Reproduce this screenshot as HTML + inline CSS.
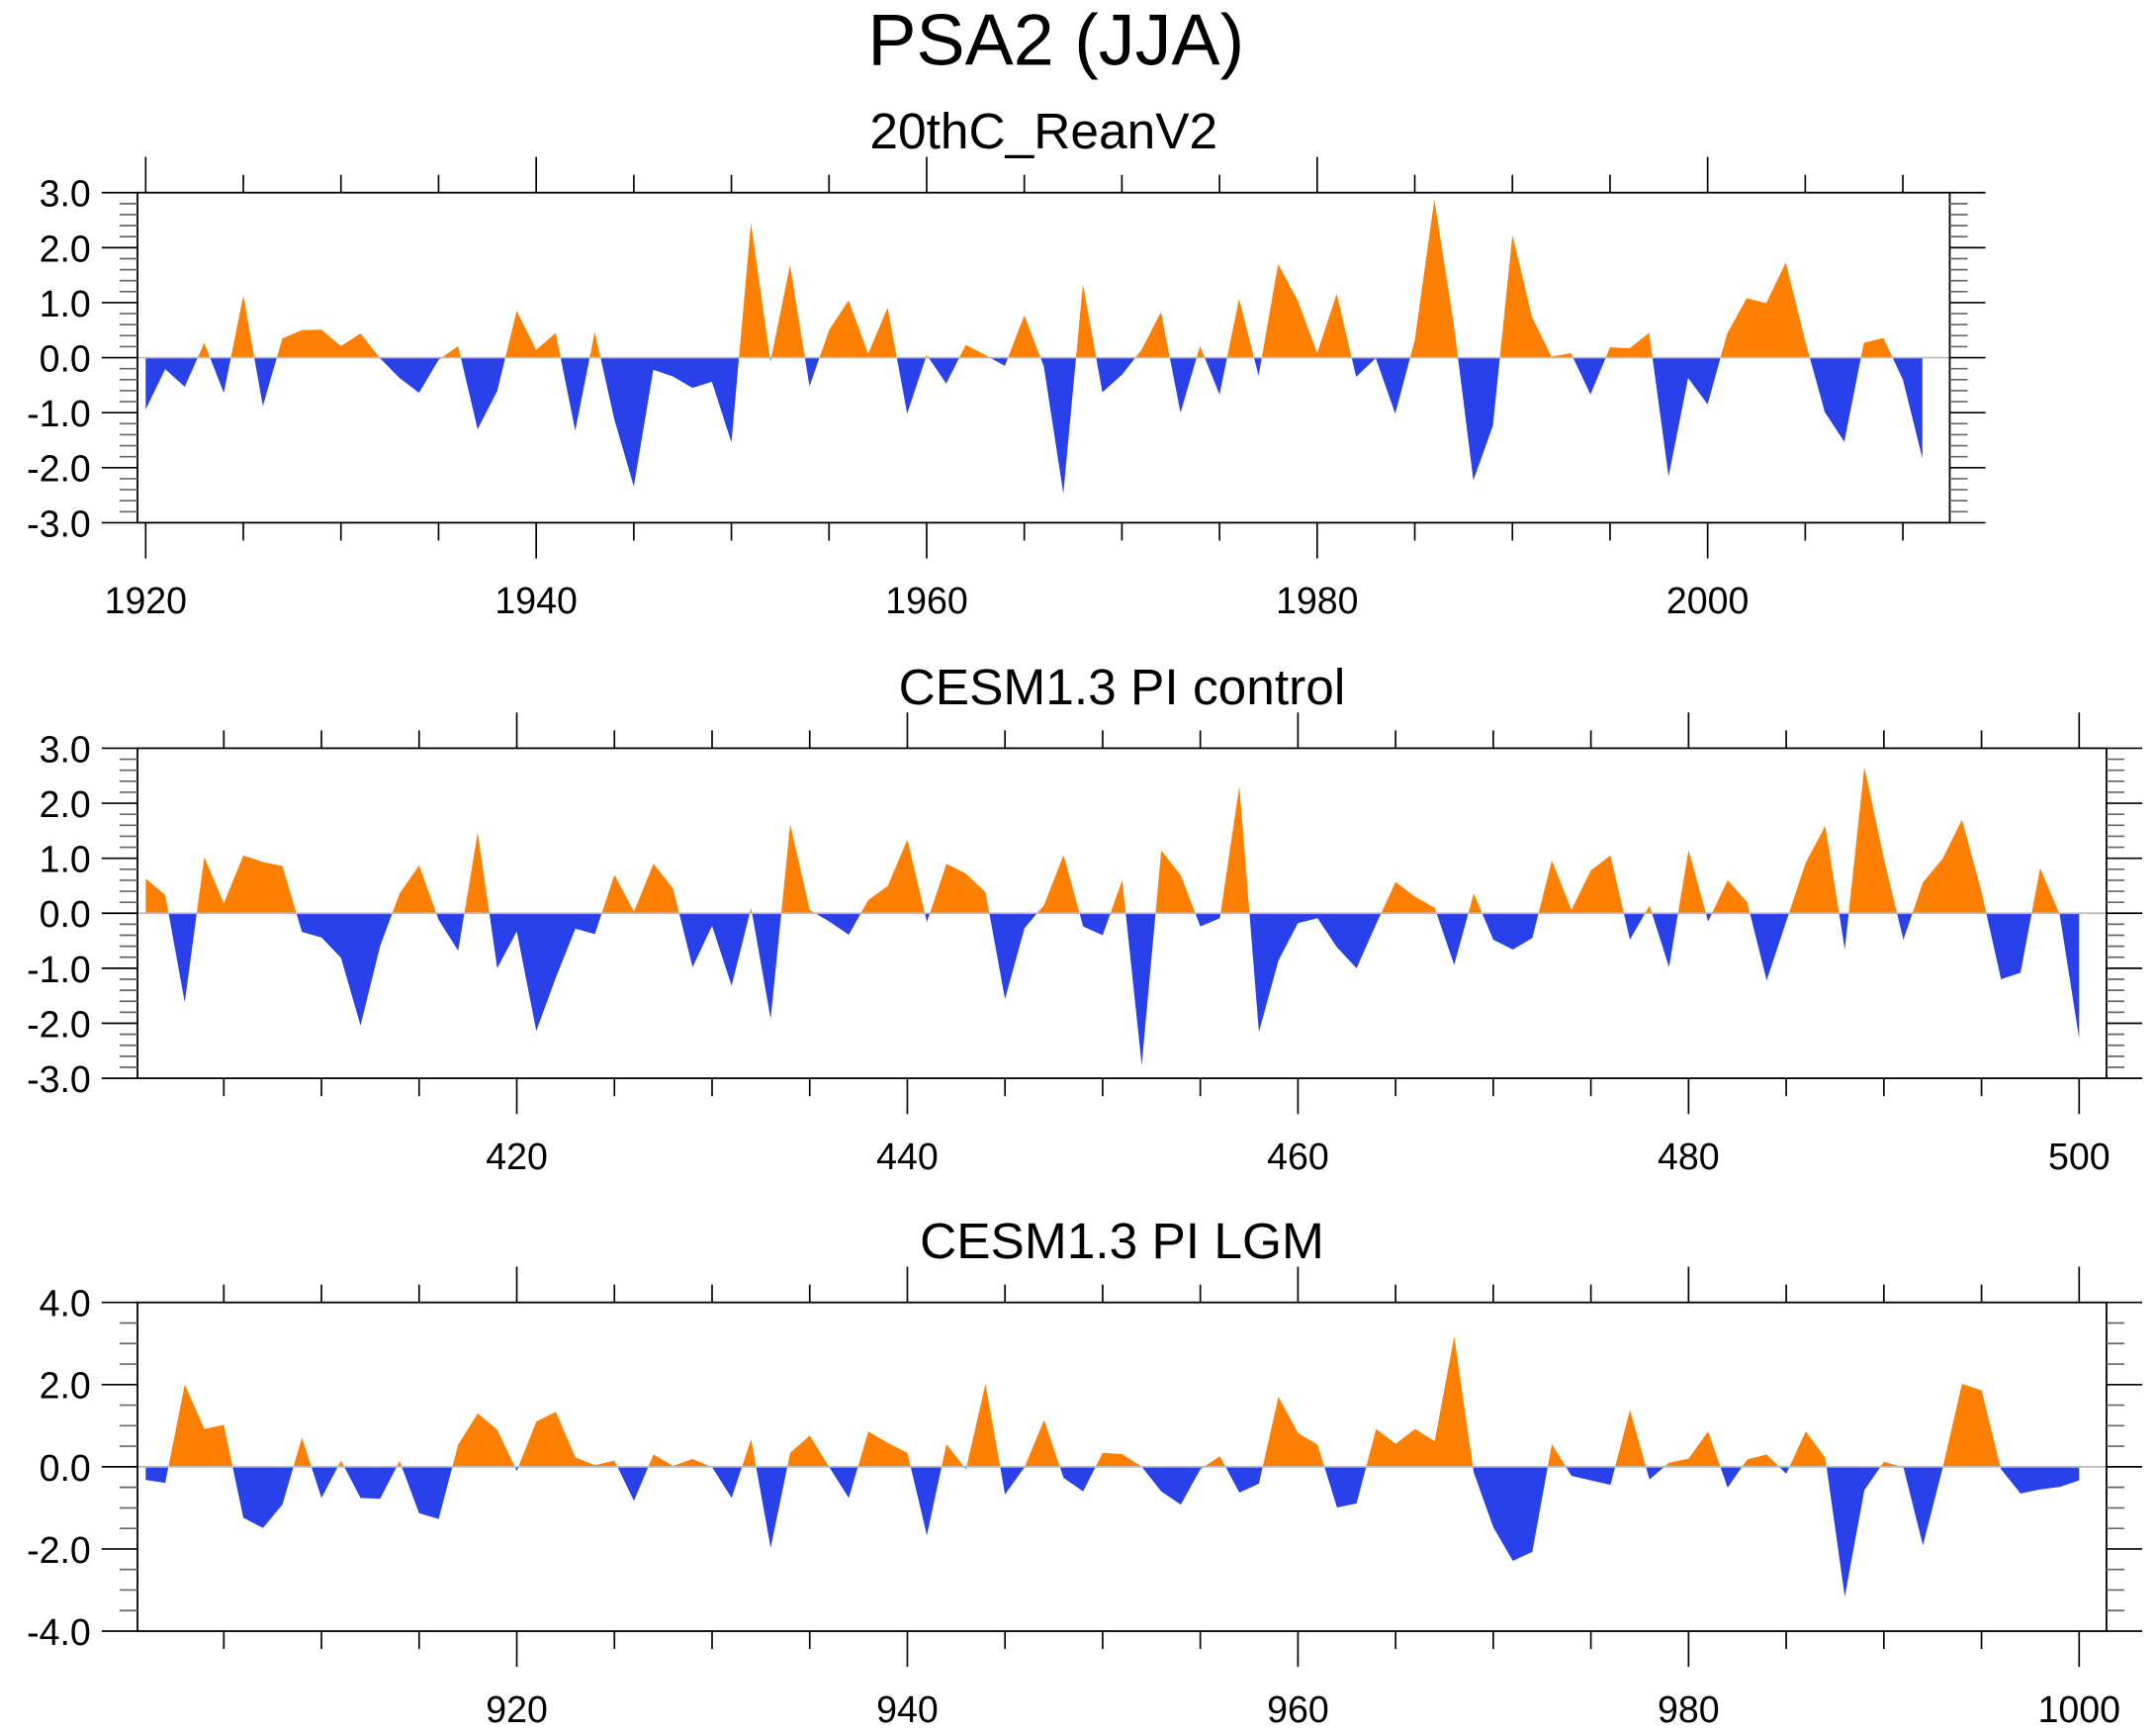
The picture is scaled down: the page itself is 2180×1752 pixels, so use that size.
<!DOCTYPE html>
<html><head><meta charset="utf-8"><style>
html,body{margin:0;padding:0;background:#fff;}
svg{display:block;font-family:"Liberation Sans",sans-serif;}
</style></head><body>
<svg id="fig" width="2180" height="1752" viewBox="0 0 1568 1260" xmlns="http://www.w3.org/2000/svg">
<text x="768" y="47" font-size="53" text-anchor="middle">PSA2 (JJA)</text>
</svg>
<script>
const years1 = [];
for (let y = 1920; y <= 2011; y++) years1.push(y);
const vals1 = [-0.94,-0.21,-0.53,0.27,-0.64,1.13,-0.88,0.35,0.5,0.51,0.21,0.44,-0.01,-0.37,-0.64,-0.04,0.21,-1.3,-0.61,0.85,0.14,0.45,-1.33,0.47,-1.12,-2.34,-0.22,-0.34,-0.55,-0.44,-1.54,2.45,-0.07,1.68,-0.52,0.5,1.04,0.07,0.91,-1.02,0.05,-0.47,0.23,0.05,-0.15,0.77,-0.16,-2.47,1.34,-0.63,-0.31,0.14,0.83,-1.0,0.21,-0.67,1.07,-0.33,1.7,1.04,0.08,1.16,-0.35,-0.01,-1.02,0.32,2.87,0.6,-2.23,-1.24,2.23,0.74,0.02,0.08,-0.67,0.19,0.17,0.45,-2.16,-0.37,-0.85,0.44,1.08,0.99,1.73,0.3,-0.99,-1.53,0.27,0.36,-0.4,-1.83];
const years2 = [];
for (let y = 401; y <= 500; y++) years2.push(y);
const vals2 = [0.63,0.33,-1.62,1.02,0.18,1.05,0.93,0.86,-0.34,-0.44,-0.81,-2.04,-0.6,0.36,0.87,-0.12,-0.68,1.47,-1.0,-0.33,-2.14,-1.17,-0.28,-0.38,0.7,0.03,0.9,0.45,-0.98,-0.23,-1.32,0.1,-1.92,1.62,0.06,-0.15,-0.39,0.24,0.5,1.34,-0.16,0.9,0.72,0.38,-1.56,-0.27,0.15,1.06,-0.24,-0.4,0.6,-2.76,1.14,0.69,-0.24,-0.09,2.31,-2.16,-0.86,-0.18,-0.09,-0.62,-1.0,-0.2,0.57,0.3,0.1,-0.94,0.36,-0.48,-0.66,-0.45,0.96,0.06,0.78,1.05,-0.48,0.14,-0.98,1.15,-0.15,0.6,0.2,-1.22,-0.15,0.92,1.59,-0.66,2.66,0.99,-0.48,0.56,0.99,1.7,0.39,-1.2,-1.08,0.82,-0.02,-2.28];
const years3 = [];
for (let y = 901; y <= 1000; y++) years3.push(y);
const vals3 = [-0.32,-0.39,2.0,0.92,1.02,-1.24,-1.49,-0.92,0.71,-0.76,0.15,-0.76,-0.78,0.14,-1.13,-1.27,0.54,1.3,0.9,-0.1,1.1,1.34,0.23,0.04,0.15,-0.83,0.3,0.02,0.19,-0.01,-0.76,0.67,-1.97,0.34,0.76,-0.01,-0.76,0.86,0.58,0.34,-1.67,0.55,-0.06,2.02,-0.67,-0.01,1.14,-0.27,-0.6,0.34,0.31,0.0,-0.6,-0.92,-0.06,0.26,-0.63,-0.41,1.7,0.82,0.54,-0.99,-0.89,0.92,0.56,0.92,0.62,3.17,-0.14,-1.47,-2.29,-2.07,0.55,-0.22,-0.33,-0.44,1.38,-0.31,0.1,0.2,0.86,-0.51,0.18,0.3,-0.17,0.86,0.22,-3.16,-0.57,0.12,-0.01,-1.91,-0.05,2.02,1.86,-0.06,-0.65,-0.55,-0.49,-0.33];
const xTicks1 = [1920,1940,1960,1980,2000];
const xTicks2 = [420,440,460,480,500];
const xTicks3 = [920,940,960,980,1000];
const yTicks12 = [-3,-2,-1,0,1,2,3];
const yTicks3 = [-4,-2,0,2,4];

const NS = "http://www.w3.org/2000/svg";
const svg = document.getElementById('fig');
function mk(tag, attrs, parent){
  const e = document.createElementNS(NS, tag);
  for (const k in attrs) e.setAttribute(k, attrs[k]);
  (parent||svg).appendChild(e);
  return e;
}

function panel(cfg){
  const g = mk('g', {});
  
  
  const L=cfg.left, R=cfg.right, T=cfg.top, B=cfg.bottom;
  const xs = v => L + (v - cfg.xmin) / (cfg.xmax - cfg.xmin) * (R - L);
  const ys = v => B - (v - cfg.ymin) / (cfg.ymax - cfg.ymin) * (B - T);
  const st = mk('text', {x:(L+R)/2, y:T-32, 'font-size':37, 'text-anchor':'middle'}, g);
  st.textContent = cfg.title;
  
  
  const X = cfg.years, V = cfg.vals;
  function poly(sign){
    let pts = [[xs(X[0]), ys(0)]];
    for (let i=0;i<X.length;i++){
      const v = V[i];
      pts.push([xs(X[i]), ys(sign>0?Math.max(v,0):Math.min(v,0))]);
      if (i<X.length-1){
        const v2 = V[i+1];
        if ((v>0&&v2<0)||(v<0&&v2>0)){
          const t = v/(v-v2);
          pts.push([xs(X[i]+t*(X[i+1]-X[i])), ys(0)]);
        }
      }
    }
    pts.push([xs(X[X.length-1]), ys(0)]);
    return pts.map(p=>p[0].toFixed(2)+','+p[1].toFixed(2)).join(' ');
  }
  const pos = mk('polygon', {points:poly(1), fill:'#ff8000'}, g);
  
  
  const neg = mk('polygon', {points:poly(-1), fill:'#2841ea'}, g);
  
  
  const zl = mk('line', {x1:L, x2:R, y1:ys(0), y2:ys(0), stroke:'#bbb', 'stroke-width':1.2}, g);
  
  
  const fr = mk('rect', {x:L, y:T, width:R-L, height:B-T, fill:'none', stroke:'#000', 'stroke-width':1.3}, g);
  
  
  const xa = mk('g', {stroke:'#000', 'stroke-width':1.2}, g);
  
  
  const start = Math.ceil(cfg.xmin/5)*5;
  for (let t=start; t<=cfg.xmax; t+=5){
    const major = t % 20 === 0;
    const len = major ? 26 : 13;
    const x = xs(t);
    mk('line', {x1:x, x2:x, y1:B, y2:B+len}, xa);
    mk('line', {x1:x, x2:x, y1:T, y2:T-len}, xa);
  }
  for (const t of cfg.xTicks){
    const tx = mk('text', {x:xs(t), y:B+66, 'font-size':27, 'text-anchor':'middle', stroke:'none', fill:'#000'}, g);
    tx.textContent = String(t);
    
    
  }
  const ya = mk('g', {stroke:'#000', 'stroke-width':1.2}, g);
  
  
  const nMin = Math.round((cfg.ymax-cfg.ymin)/cfg.minor);
  for (let i=0;i<=nMin;i++){
    const v = cfg.ymin + i*cfg.minor;
    const y = ys(v);
    const major = cfg.yTicks.some(t=>Math.abs(t-v)<1e-6);
    const len = major ? 26 : 13;
    mk('line', {x1:L, x2:L-len, y1:y, y2:y, stroke: major?'#000':'#666'}, ya);
    mk('line', {x1:R, x2:R+len, y1:y, y2:y, stroke: major?'#000':'#666'}, ya);
  }
  for (const t of cfg.yTicks){
    const tx = mk('text', {x:66, y:ys(t)+10, 'font-size':27, 'text-anchor':'end', stroke:'none', fill:'#000'}, g);
    tx.textContent = t.toFixed(1);
    
    
  }
}

panel({name:'panel-20thc-reanv2', title:'20thC_ReanV2', left:100, right:1418, top:140, bottom:380,
  xmin:1919.58, xmax:2012.4, ymin:-3, ymax:3, minor:0.2, years:years1, vals:vals1, xTicks:xTicks1, yTicks:yTicks12});
panel({name:'panel-pi-control', title:'CESM1.3 PI control', left:100, right:1532, top:544, bottom:784,
  xmin:400.58, xmax:501.4, ymin:-3, ymax:3, minor:0.2, years:years2, vals:vals2, xTicks:xTicks2, yTicks:yTicks12});
panel({name:'panel-pi-lgm', title:'CESM1.3 PI LGM', left:100, right:1532, top:947, bottom:1186,
  xmin:900.58, xmax:1001.4, ymin:-4, ymax:4, minor:0.5, years:years3, vals:vals3, xTicks:xTicks3, yTicks:yTicks3});
</script>
</body></html>
